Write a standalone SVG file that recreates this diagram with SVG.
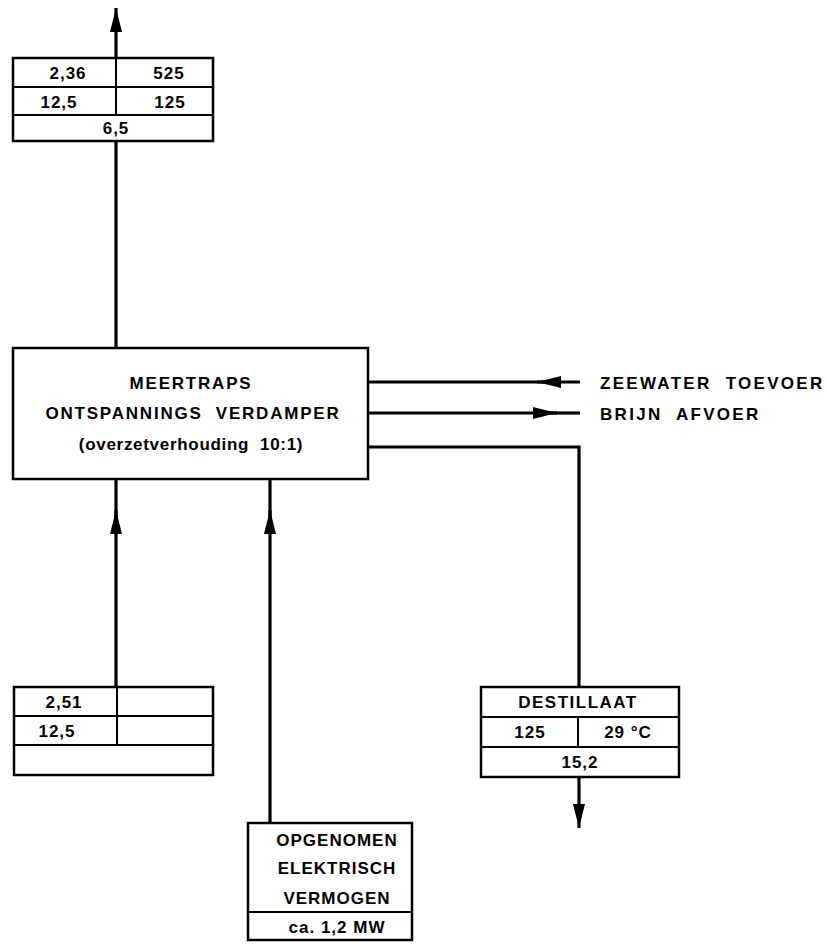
<svg xmlns="http://www.w3.org/2000/svg" width="827" height="944" viewBox="0 0 827 944">
<defs>
<style>
.box{fill:#fff;stroke:#000;stroke-width:2.5}
.ln{fill:none;stroke:#000;stroke-width:3.2}
.div{fill:none;stroke:#000;stroke-width:2}
text{font-family:"Liberation Sans",Arial,sans-serif;font-weight:bold;fill:#000;letter-spacing:1px}
.t{font-size:17px}
.c{text-anchor:middle}
.big{font-size:17px;letter-spacing:1.8px}
.lbl{font-size:17px;letter-spacing:2.3px}
</style>
<marker id="ah" viewBox="0 0 24 12" refX="24" refY="6" markerWidth="24" markerHeight="12" markerUnits="userSpaceOnUse" orient="auto">
<path d="M0,0 L24,6 L0,12 Z" fill="#000"/>
</marker>
</defs>
<rect width="827" height="944" fill="#fff"/>

<g id="connectors">
<line class="ln" x1="116" y1="141" x2="116" y2="348"/>
<line class="ln" x1="116" y1="58" x2="116" y2="8" marker-end="url(#ah)"/>
<line class="ln" x1="116" y1="687" x2="116" y2="600"/>
<line class="ln" x1="116" y1="600" x2="116" y2="510" marker-end="url(#ah)"/>
<line class="ln" x1="116" y1="520" x2="116" y2="479"/>
<line class="ln" x1="270" y1="823" x2="270" y2="600"/>
<line class="ln" x1="270" y1="600" x2="270" y2="510" marker-end="url(#ah)"/>
<line class="ln" x1="270" y1="520" x2="270" y2="479"/>
<line class="ln" x1="580" y1="382" x2="537" y2="382" marker-end="url(#ah)"/>
<line class="ln" x1="545" y1="382" x2="368" y2="382"/>
<line class="ln" x1="368" y1="413" x2="557" y2="413" marker-end="url(#ah)"/>
<line class="ln" x1="550" y1="413" x2="580" y2="413"/>
<polyline class="ln" points="368,447 579,447 579,687"/>
<line class="ln" x1="579" y1="777" x2="579" y2="828" marker-end="url(#ah)"/>
</g>

<g id="top-table">
<rect class="box" x="13" y="58" width="200" height="83"/>
<line class="div" x1="13" y1="87" x2="213" y2="87"/>
<line class="div" x1="13" y1="115" x2="213" y2="115"/>
<line class="div" x1="116" y1="58" x2="116" y2="115"/>
<text class="t c" x="68" y="79">2,36</text>
<text class="t c" x="169" y="79">525</text>
<text class="t c" x="59" y="108">12,5</text>
<text class="t c" x="170" y="108">125</text>
<text class="t c" x="116" y="134">6,5</text>
</g>

<g id="evaporator">
<rect class="box" x="13" y="348" width="355" height="131"/>
<text class="big c" x="191" y="389">MEERTRAPS</text>
<text class="big c" x="193" y="419" xml:space="preserve">ONTSPANNINGS  VERDAMPER</text>
<text class="big c" x="191" y="450" style="letter-spacing:0.7px" xml:space="preserve">(overzetverhouding  10:1)</text>
</g>

<g id="zeewater">
<text class="lbl" x="600" y="389" xml:space="preserve">ZEEWATER  TOEVOER</text>
</g>
<g id="brijn">
<text class="lbl" x="600" y="420" xml:space="preserve">BRIJN  AFVOER</text>
</g>

<g id="bottom-left-table">
<rect class="box" x="14" y="687" width="199" height="88"/>
<line class="div" x1="14" y1="716" x2="213" y2="716"/>
<line class="div" x1="14" y1="745" x2="213" y2="745"/>
<line class="div" x1="117" y1="687" x2="117" y2="745"/>
<text class="t c" x="64" y="708">2,51</text>
<text class="t c" x="57" y="737">12,5</text>
</g>

<g id="destillaat">
<rect class="box" x="481" y="687" width="198" height="90"/>
<line class="div" x1="481" y1="717" x2="679" y2="717"/>
<line class="div" x1="481" y1="747" x2="679" y2="747"/>
<line class="div" x1="578" y1="717" x2="578" y2="747"/>
<text class="t c" x="578" y="708" style="letter-spacing:1.5px">DESTILLAAT</text>
<text class="t c" x="530" y="738">125</text>
<text class="t c" x="628" y="738">29 °C</text>
<text class="t c" x="580" y="768">15,2</text>
</g>

<g id="vermogen">
<rect class="box" x="248" y="823" width="164" height="117"/>
<line class="div" x1="248" y1="912" x2="412" y2="912"/>
<text class="t c" x="337" y="846">OPGENOMEN</text>
<text class="t c" x="337" y="874">ELEKTRISCH</text>
<text class="t c" x="337" y="904">VERMOGEN</text>
<text class="t c" x="337" y="933">ca. 1,2 MW</text>
</g>
</svg>
